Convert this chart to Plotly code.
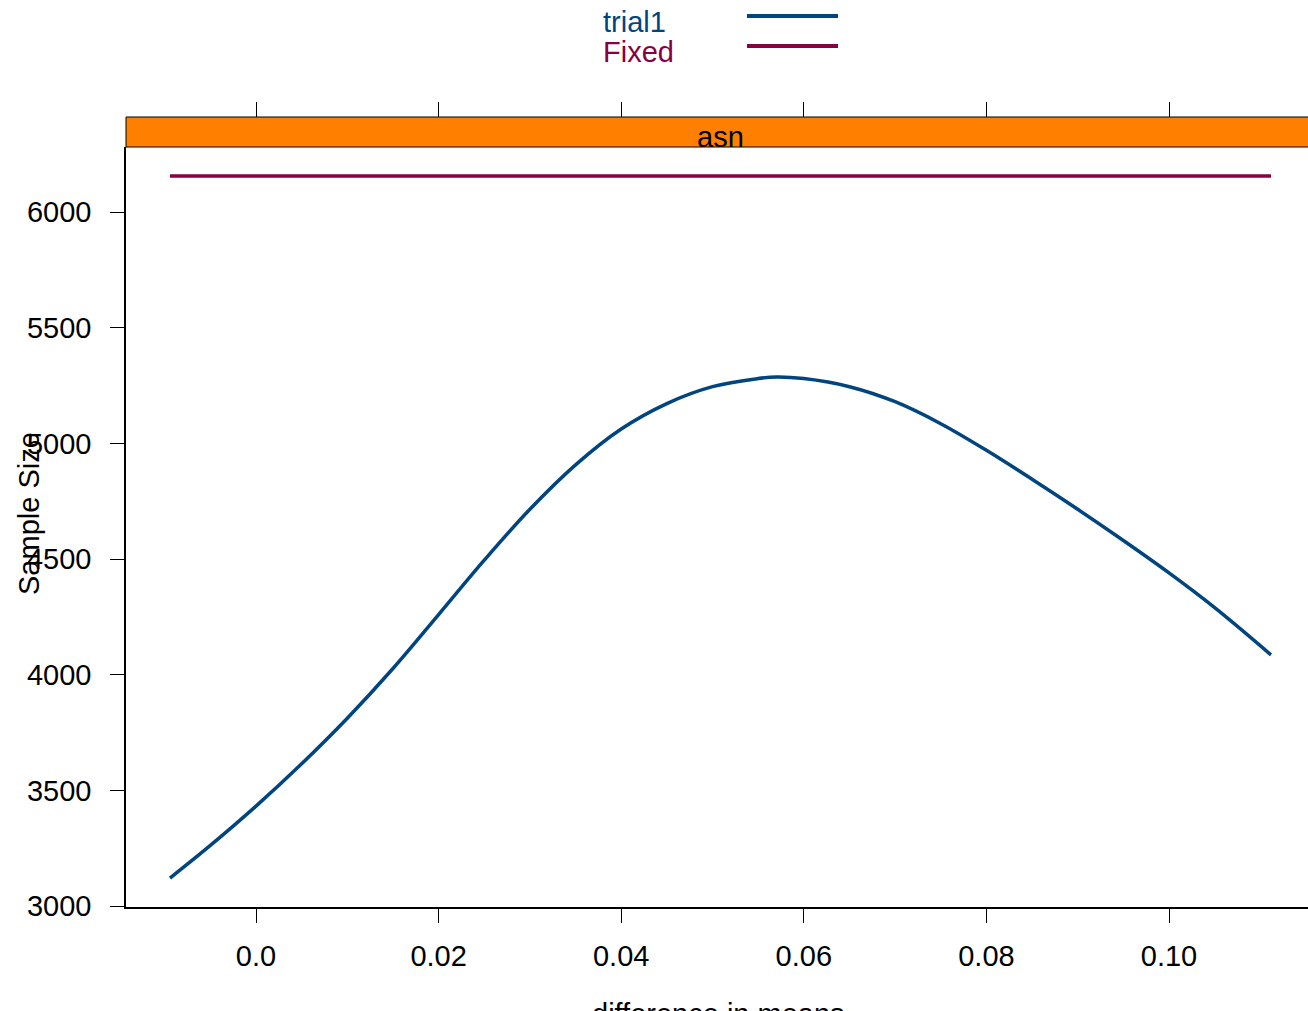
import plotly.graph_objects as go

# Data
diff_means = [-0.00942, -0.005, 0.0, 0.005, 0.01, 0.015, 0.02, 0.025, 0.03, 0.035,
              0.04, 0.045, 0.05, 0.055, 0.057, 0.06, 0.065, 0.07, 0.075, 0.08,
              0.085, 0.09, 0.095, 0.10, 0.105, 0.11117]
trial1_n = [3121, 3262, 3432, 3615, 3812, 4027, 4260, 4495, 4715, 4907,
            5062, 5172, 5245, 5280, 5287, 5280, 5245, 5180, 5085, 4970,
            4845, 4715, 4580, 4440, 4290, 4086]
fixed_x = [-0.00942, 0.11117]
fixed_n = [6156, 6156]

x_ticks = [0.0, 0.02, 0.04, 0.06, 0.08, 0.10]
x_ticktext = ["0.0", "0.02", "0.04", "0.06", "0.08", "0.10"]
y_ticks = [3000, 3500, 4000, 4500, 5000, 5500, 6000]

series_names = ["trial1", "Fixed"]
series_colors = ["#00457F", "#870042"]

FONT = "Liberation Sans, Arial, sans-serif"
FS = 29

W, H = 1308, 1011
ML, MR, MT, MB = 126, 0, 117, 104
PH = H - MT - MB  # 790
PW = W - ML - MR
STRIP = 30


def px_x(p):
    return (p - ML) / PW


def px_y(p):
    return (H - MB - p) / PH


fig = go.Figure()
fig.add_trace(go.Scatter(x=diff_means, y=trial1_n, mode="lines", name=series_names[0],
                         line=dict(color=series_colors[0], width=3.5, shape="spline", smoothing=1),
                         showlegend=False))
fig.add_trace(go.Scatter(x=fixed_x, y=fixed_n, mode="lines", name=series_names[1],
                         line=dict(color=series_colors[1], width=3.5), showlegend=False))

# strip
shapes = [dict(type="rect", xref="paper", yref="paper", x0=0, x1=1.05,
               y0=(PH - STRIP) / PH, y1=1, fillcolor="#FF7F00",
               line=dict(color="black", width=1), layer="above")]
annotations = [dict(text="asn", xref="paper", yref="paper", x=px_x(720), y=px_y(137),
                    xanchor="center", yanchor="middle", showarrow=False,
                    font=dict(family=FONT, size=FS, color="black"))]

# legend (text then line key)
leg_text_y = [22, 52]
leg_line_y = [16, 46]
for name, col, ty, ly in zip(series_names, series_colors, leg_text_y, leg_line_y):
    annotations.append(dict(text=name, xref="paper", yref="paper", x=px_x(601), y=px_y(ty),
                            xanchor="left", yanchor="middle", showarrow=False,
                            font=dict(family=FONT, size=FS, color=col)))
    shapes.append(dict(type="line", xref="paper", yref="paper", x0=px_x(747), x1=px_x(838),
                       y0=px_y(ly), y1=px_y(ly), line=dict(color=col, width=4)))

# axis titles
annotations.append(dict(text="Sample Size", xref="paper", yref="paper", x=px_x(29), y=px_y(514),
                        xanchor="center", yanchor="middle", textangle=-90, showarrow=False,
                        font=dict(family=FONT, size=FS, color="black")))
annotations.append(dict(text="difference in means", xref="paper", yref="paper", x=px_x(718),
                        y=px_y(1014), xanchor="center", yanchor="middle", showarrow=False,
                        font=dict(family=FONT, size=FS, color="black")))

xr = [-0.01424, -0.01424 + PW / 9130.0]
fig.update_layout(
    width=W, height=H, margin=dict(l=ML, r=MR, t=MT, b=MB, pad=0),
    plot_bgcolor="white", paper_bgcolor="white",
    font=dict(family=FONT, size=FS, color="black"),
    shapes=shapes, annotations=annotations, showlegend=False,
    xaxis=dict(range=xr, tickvals=x_ticks, ticktext=x_ticktext, showgrid=False, zeroline=False,
               showline=True, linecolor="black", linewidth=1.5, ticks="outside", ticklen=14,
               tickwidth=1, tickcolor="black", ticklabelstandoff=8, anchor="y"),
    xaxis2=dict(range=xr, matches="x", overlaying="x", side="top", anchor="free", position=1,
                tickvals=x_ticks, showticklabels=False, showgrid=False, zeroline=False,
                showline=False, ticks="outside", ticklen=15, tickwidth=1, tickcolor="black"),
    yaxis=dict(range=[2996, 6281], domain=[0, (PH - STRIP) / PH], tickvals=y_ticks,
               showgrid=False, zeroline=False, showline=True, linecolor="black", linewidth=1.5,
               ticks="outside", ticklen=14, tickwidth=1, tickcolor="black",
               ticklabelstandoff=13),
)
# dummy trace to activate top axis
fig.add_trace(go.Scatter(x=[None], y=[None], xaxis="x2", yaxis="y", showlegend=False,
                         hoverinfo="skip"))

fig.write_html("out.html")
